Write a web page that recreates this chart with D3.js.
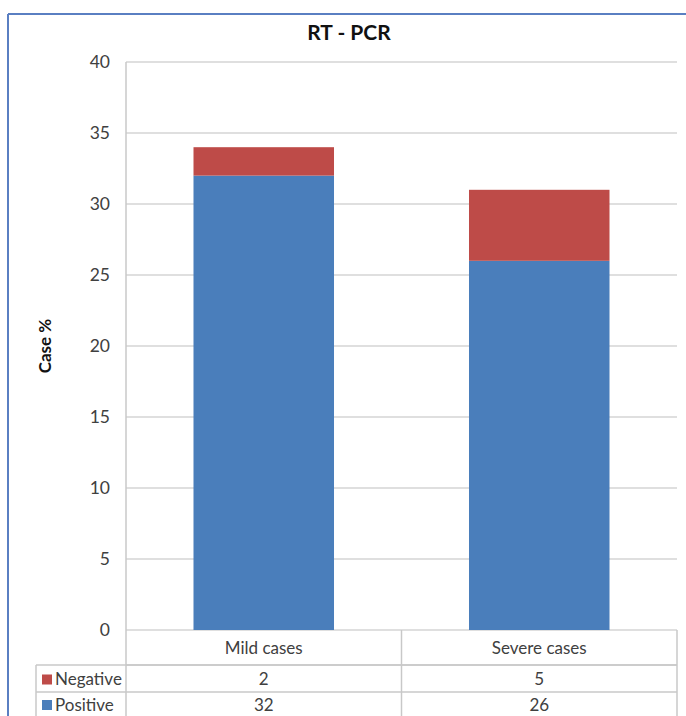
<!DOCTYPE html>
<html><head><meta charset="utf-8">
<script src="https://cdn.jsdelivr.net/npm/d3@7"></script>
<style>body{margin:0;background:#fff}svg{display:block}</style>
</head><body>
<script>
const categories = ["Mild cases", "Severe cases"];
const seriesNames = ["Positive", "Negative"];
const positive = [32, 26];
const negative = [2, 5];
const yTicks = [0, 5, 10, 15, 20, 25, 30, 35, 40];
const colors = {Positive: "#4a7ebb", Negative: "#be4b48"};

(function () {
const W = 686, H = 716;
const svg = d3.select("body").append("svg").attr("width", W).attr("height", H);
const font = "Lato, 'Open Sans', sans-serif";

// frame
svg.append("line").attr("x1", 8).attr("x2", W).attr("y1", 14).attr("y2", 14).attr("stroke", "#5a7fc2").attr("stroke-width", 2);
svg.append("line").attr("x1", 8).attr("x2", 8).attr("y1", 14).attr("y2", H).attr("stroke", "#5a7fc2").attr("stroke-width", 2);

const pLeft = 126, pRight = 677, pTop = 62, pBottom = 630;
const x = d3.scaleBand().domain(categories).range([pLeft, pRight]).paddingInner(0).paddingOuter(0);
const y = d3.scaleLinear().domain([0, 40]).range([pBottom, pTop]);

// gridlines
svg.append("g").selectAll("line").data(yTicks).join("line")
  .attr("x1", pLeft).attr("x2", pRight).attr("y1", d => y(d)).attr("y2", d => y(d))
  .attr("stroke", "#d4d4d4").attr("stroke-width", 1.5);
svg.append("line").attr("x1", pLeft).attr("x2", pLeft).attr("y1", pTop).attr("y2", pBottom).attr("stroke", "#c8c8c8").attr("stroke-width", 1.5);

// y tick labels
svg.append("g").selectAll("text").data(yTicks).join("text")
  .attr("x", 110).attr("y", d => y(d)).attr("dy", "0.35em").attr("text-anchor", "end")
  .attr("font-family", font).attr("font-size", 17.5).attr("fill", "#404040").text(d => d);

// stacked bars
const data = categories.map((c, i) => ({cat: c, Positive: positive[i], Negative: negative[i]}));
const stack = d3.stack().keys(seriesNames)(data);
const bw = x.bandwidth() * 0.51;
svg.append("g").selectAll("g").data(stack).join("g").attr("fill", d => colors[d.key])
  .selectAll("rect").data(d => d).join("rect")
  .attr("x", d => x(d.data.cat) + (x.bandwidth() - bw) / 2)
  .attr("width", bw)
  .attr("y", d => y(d[1])).attr("height", d => y(d[0]) - y(d[1]));

// title
svg.append("text").attr("x", 349).attr("y", 40).attr("text-anchor", "middle")
  .attr("font-family", font).attr("font-weight", "bold").attr("font-size", 21).attr("fill", "#111").text("RT - PCR");

// y axis title
svg.append("text").attr("transform", "translate(51,346) rotate(-90)").attr("text-anchor", "middle")
  .attr("font-family", font).attr("font-weight", "bold").attr("font-size", 17).attr("fill", "#111").text("Case %");

// data table
const tableLines = "#c8c8c8";
const rowY = [pBottom, 665, 692, H + 2];
const legLeft = 36;
svg.append("line").attr("x1", pLeft).attr("x2", pRight).attr("y1", rowY[1]).attr("y2", rowY[1]).attr("stroke", tableLines).attr("stroke-width", 1.5);
[rowY[1], rowY[2]].forEach(yy => {
  svg.append("line").attr("x1", legLeft).attr("x2", pRight).attr("y1", yy).attr("y2", yy).attr("stroke", tableLines).attr("stroke-width", 1.5);
});
const colX = [pLeft, x(categories[1]), pRight];
colX.forEach(xx => {
  svg.append("line").attr("x1", xx).attr("x2", xx).attr("y1", pBottom).attr("y2", H).attr("stroke", tableLines).attr("stroke-width", 1.5);
});
svg.append("line").attr("x1", legLeft).attr("x2", legLeft).attr("y1", rowY[1]).attr("y2", H).attr("stroke", tableLines).attr("stroke-width", 1.5);

// category labels
svg.append("g").selectAll("text").data(categories).join("text")
  .attr("x", d => x(d) + x.bandwidth() / 2).attr("y", (rowY[0] + rowY[1]) / 2 + 1).attr("dy", "0.35em")
  .attr("text-anchor", "middle").attr("font-family", font).attr("font-size", 17).attr("fill", "#404040").text(d => d);

const rows = [{name: "Negative", vals: negative, y0: rowY[1], y1: rowY[2]}, {name: "Positive", vals: positive, y0: rowY[2], y1: 716}];
rows.forEach(r => {
  const cy = (r.y0 + r.y1) / 2 + 1;
  svg.append("rect").attr("x", 42).attr("y", cy - 5).attr("width", 10).attr("height", 10).attr("fill", colors[r.name]);
  svg.append("text").attr("x", 55).attr("y", cy).attr("dy", "0.35em").attr("font-family", font).attr("font-size", 17).attr("fill", "#404040").text(r.name);
  svg.append("g").selectAll("text").data(r.vals).join("text")
    .attr("x", (d, i) => x(categories[i]) + x.bandwidth() / 2).attr("y", cy).attr("dy", "0.35em")
    .attr("text-anchor", "middle").attr("font-family", font).attr("font-size", 17).attr("fill", "#404040").text(d => d);
});
})();
</script>
</body></html>
